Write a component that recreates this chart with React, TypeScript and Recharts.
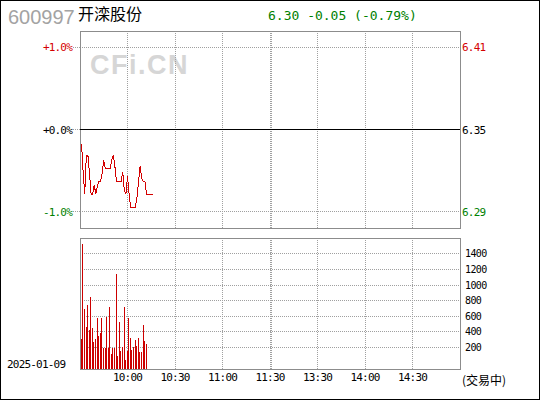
import {
  LineChart,
  Line,
  BarChart,
  Bar,
  XAxis,
  YAxis,
  CartesianGrid,
  ReferenceLine,
  ReferenceArea,
} from 'recharts';

const CODE = '600997';
const NAME = '开滦股份';
const TRADE_DATE = '2025-01-09';
const STATUS = '(交易中)';
const WATERMARK = 'CFi.CN';

const PREV_CLOSE = 6.35;
const LAST_PRICE = 6.3;

// last price per minute, starting at 9:31
const PRICES = [
  6.339, 6.317, 6.3, 6.33, 6.33, 6.316, 6.3, 6.3, 6.307, 6.3,
  6.306, 6.31, 6.31, 6.316, 6.326, 6.32, 6.32, 6.32, 6.32, 6.326,
  6.33, 6.322, 6.31, 6.31, 6.31, 6.31, 6.317, 6.303, 6.3, 6.314,
  6.3, 6.29, 6.29, 6.29, 6.29, 6.298, 6.31, 6.322, 6.312, 6.31,
  6.31, 6.3, 6.3, 6.3, 6.3, 6.3,
];

// traded lots per minute, starting at 9:31
const VOLUMES = [
  311, 1531, 696, 465, 748, 427, 850, 452, 272, 311,
  581, 350, 388, 581, 195, 195, 593, 195, 722, 118,
  195, 195, 1146, 92, 529, 157, 208, 722, 41, 157,
  581, 324, 170, 208, 298, 221, 324, 144, 144, 491,
  285, 247,
];

// minutes since 9:30 on a 240-minute session (lunch break folded out)
const SESSION = [0, 240];
const TIME_TICKS = [30, 60, 90, 120, 150, 180, 210];
const TIME_LABELS = ['10:00', '10:30', '11:00', '11:30', '13:30', '14:00', '14:30'];
const LUNCH_SEAM = 121;

const PCT_TICKS = [-1, 0, 1];
const PCT_RANGE = 1.2;
const VOL_TICKS = [200, 400, 600, 800, 1000, 1200, 1400];
const VOL_DOMAIN = [-78, 1605];

const RED = '#d40000';
const GREEN = '#008000';
const GRID = '#a0a0a0';
const FRAME = '#8c8c8c';
const MONO = '"DejaVu Sans Mono", monospace';
const CJK = '"Noto Sans CJK SC", sans-serif';

const priceData = PRICES.map((p, i) => ({ m: i + 1, price: p }));
const volumeData = VOLUMES.map((v, i) => ({ m: i + 1, vol: v }));

const gridTicks = [...TIME_TICKS, LUNCH_SEAM].sort((a, b) => a - b);
const priceDomain = [PREV_CLOSE * (1 - PCT_RANGE / 100), PREV_CLOSE * (1 + PCT_RANGE / 100)];
const priceTicks = PCT_TICKS.map((p) => PREV_CLOSE * (1 + p / 100));

const signColor = (v: number) => (v > 0.0001 ? RED : v < -0.0001 ? GREEN : '#000');

function PctTick({ x, y, payload }: any) {
  const v: number = payload.value;
  const label = (v >= 0 ? '+' : '') + v.toFixed(1) + '%';
  return (
    <g>
      <line x1={x + 1} x2={x + 8} y1={y} y2={y} stroke={GRID} strokeDasharray="1 1" />
      <text x={x} y={y} dy={4} textAnchor="end" fill={signColor(v)} fontSize={11}
        fontFamily={MONO} letterSpacing={-0.8}>
        {label}
      </text>
    </g>
  );
}

function PriceTick({ x, y, payload }: any) {
  const v: number = payload.value;
  return (
    <text x={x} y={y} dy={4} textAnchor="start" fill={signColor(v - PREV_CLOSE)} fontSize={11}
      fontFamily={MONO} letterSpacing={-0.8}>
      {v.toFixed(2)}
    </text>
  );
}

function VolTick({ x, y, payload }: any) {
  return (
    <text x={x} y={y} dy={3.5} textAnchor="start" fill="#000" fontSize={10}
      fontFamily={MONO} letterSpacing={-0.6}>
      {payload.value}
    </text>
  );
}

function TimeTick({ x, y, payload }: any) {
  const idx = TIME_TICKS.indexOf(payload.value);
  if (idx < 0) return <g />;
  return (
    <text x={x} y={y} dy={8} textAnchor="middle" fill="#000" fontSize={11}
      fontFamily={MONO} letterSpacing={-0.8}>
      {TIME_LABELS[idx]}
    </text>
  );
}

function Header() {
  const change = LAST_PRICE - PREV_CLOSE;
  const pct = (change / PREV_CLOSE) * 100;
  const quote = `${LAST_PRICE.toFixed(2)} ${change.toFixed(2)} (${pct.toFixed(2)}%)`;
  return (
    <svg width={540} height={400} style={{ position: 'absolute', left: 0, top: 0 }}>
      <text x={8} y={24} fontSize={20} fontFamily='"Liberation Sans", Arial, sans-serif' fill="#a3a3a3">
        {CODE}
      </text>
      <text x={78} y={20} fontSize={16} fontFamily={CJK} fill="#000">
        {NAME}
      </text>
      <text x={268} y={20} fontSize={13} fontFamily={MONO} fill={signColor(change)}>
        {quote}
      </text>
      <text x={90} y={74} fontSize={27} fontWeight="bold" letterSpacing={1.5}
        fontFamily='"Liberation Sans", Arial, sans-serif' fill="#d6d6d6">
        {WATERMARK}
      </text>
      <text x={7} y={368} fontSize={11} fontFamily={MONO} letterSpacing={-0.8} fill="#000">
        {TRADE_DATE}
      </text>
      <text x={462} y={385} fontSize={12} fontFamily={CJK} fill="#000">
        {STATUS}
      </text>
    </svg>
  );
}

function PricePanel() {
  return (
    <LineChart
      width={540}
      height={240}
      data={priceData}
      margin={{ top: 31, right: 0, bottom: 12, left: 0 }}
      style={{ position: 'absolute', left: 0, top: 0, shapeRendering: 'crispEdges' }}
    >
      <XAxis dataKey="m" type="number" domain={SESSION} ticks={gridTicks} interval={0} hide allowDataOverflow />
      <YAxis
        type="number"
        domain={[-PCT_RANGE, PCT_RANGE]}
        ticks={PCT_TICKS}
        interval={0}
        width={80}
        axisLine={false}
        tickLine={false}
        tickSize={0}
        tickMargin={8}
        tick={<PctTick />}
        allowDataOverflow
      />
      <YAxis
        yAxisId="price"
        orientation="right"
        type="number"
        domain={priceDomain}
        ticks={priceTicks}
        interval={0}
        width={80}
        axisLine={false}
        tickLine={false}
        tickSize={0}
        tickMargin={2}
        tick={<PriceTick />}
        allowDataOverflow
      />
      <CartesianGrid stroke={GRID} strokeDasharray="1 1" />
      <ReferenceArea x1={SESSION[0]} x2={SESSION[1]} y1={-PCT_RANGE} y2={PCT_RANGE}
        fill="none" fillOpacity={0} stroke={FRAME} strokeOpacity={1} />
      <ReferenceLine y={0} stroke="#000" />
      <Line
        yAxisId="price"
        dataKey="price"
        type="linear"
        stroke={RED}
        strokeWidth={1}
        dot={false}
        isAnimationActive={false}
      />
    </LineChart>
  );
}

function VolumePanel() {
  return (
    <BarChart
      width={540}
      height={400}
      data={volumeData}
      margin={{ top: 238, right: 0, bottom: 1, left: 80 }}
      style={{ position: 'absolute', left: 0, top: 0, shapeRendering: 'crispEdges' }}
    >
      <XAxis
        dataKey="m"
        type="number"
        domain={SESSION}
        ticks={gridTicks}
        interval={0}
        height={30}
        axisLine={false}
        tickLine={false}
        tickSize={0}
        tickMargin={4}
        tick={<TimeTick />}
        allowDataOverflow
      />
      <YAxis
        orientation="right"
        type="number"
        domain={VOL_DOMAIN}
        ticks={VOL_TICKS}
        interval={0}
        width={80}
        axisLine={false}
        tickLine={false}
        tickSize={0}
        tickMargin={5}
        tick={<VolTick />}
        allowDataOverflow
      />
      <CartesianGrid stroke={GRID} strokeDasharray="1 1" />
      <ReferenceArea x1={SESSION[0]} x2={SESSION[1]} y1={VOL_DOMAIN[0]} y2={VOL_DOMAIN[1]}
        fill="none" fillOpacity={0} stroke={FRAME} strokeOpacity={1} />
      <Bar
        dataKey={(d: any) => [VOL_DOMAIN[0], d.vol]}
        fill="#cc0000"
        barSize={1}
        isAnimationActive={false}
      />
    </BarChart>
  );
}

export default function App() {
  return (
    <div style={{ position: 'absolute', left: 0, top: 0, width: 540, height: 400, background: '#fff', overflow: 'hidden' }}>
      <Header />
      <PricePanel />
      <VolumePanel />
      <div style={{ position: 'absolute', left: 0, top: 0, width: 540, height: 400, boxSizing: 'border-box', border: '1px solid #000', pointerEvents: 'none' }} />
    </div>
  );
}
